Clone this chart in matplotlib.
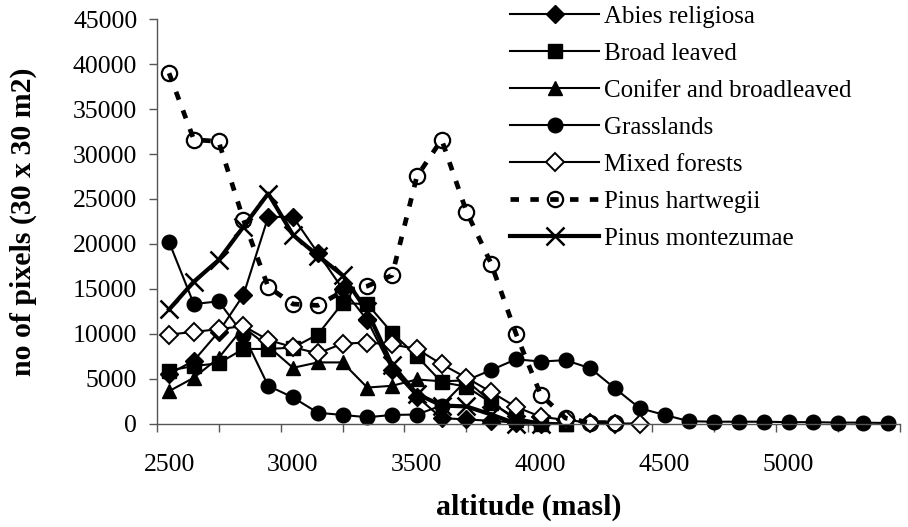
"""Pixel counts per vegetation class along the altitude gradient."""
import matplotlib.pyplot as plt
from matplotlib.ticker import FixedLocator, NullFormatter

plt.rcParams["font.family"] = ["Liberation Serif", "DejaVu Serif"]

ALTITUDE = list(range(2500, 5500, 100))

abies = [5500, 7000, 10200, 14300, 23000, 23000, 19000, 15000, 11500, 6000,
         3000, 600, 450, 300, 100, 0]
broad = [5900, 6400, 6700, 8300, 8300, 8450, 9900, 13400, 13300, 10100,
         7500, 4600, 4100, 2300, 600, 100, 0]
conifer = [3600, 5100, 7300, 10700, 8600, 6200, 6800, 6800, 4000, 4200,
           4900, 4700, 4800, 2400, 400, 0, 0]
grass = [20200, 13300, 13600, 9900, 4200, 2900, 1200, 950, 700, 950,
         1000, 2000, 4800, 5950, 7150, 6900, 7050, 6150, 3900, 1700,
         950, 250, 200, 200, 200, 150, 150, 100, 100, 50]
mixed = [9900, 10200, 10500, 10850, 9300, 8500, 7800, 8900, 9000, 8800,
         8300, 6600, 5100, 3500, 1850, 750, 400, 100, 0, 0]
hartwegii = [39000, 31600, 31400, 22700, 15200, 13300, 13150, 14700, 15300, 16500,
             27500, 31600, 23600, 17800, 10000, 3200, 600, 100, 100]
montezumae = [12700, 15800, 18200, 21900, 25600, 21000, 18700, 16500, 12500, 6500,
              3300, 2000, 1900, 1000, 0, 0]

series = [
    ("Abies religiosa", abies, dict(marker="D", ms=9, mfc="black", ls="-", lw=1.5)),
    ("Broad leaved", broad, dict(marker="s", ms=10, mfc="black", ls="-", lw=1.5)),
    ("Conifer and broadleaved", conifer, dict(marker="^", ms=10, mfc="black", ls="-", lw=1.5)),
    ("Grasslands", grass, dict(marker="o", ms=10.5, mfc="black", ls="-", lw=1.5)),
    ("Mixed forests", mixed, dict(marker="D", ms=9, mfc="white", mew=1.4, ls="-", lw=1.5)),
    ("Pinus hartwegii", hartwegii, dict(marker="o", ms=11, mfc="none", mew=1.6,
                                        ls=(0, (1.8, 2.4)), lw=3.4)),
    ("Pinus montezumae", montezumae, dict(marker="x", ms=13, mew=1.8, ls="-", lw=3)),
]

fig = plt.figure(figsize=(9.08, 5.27), dpi=100)
ax = fig.add_axes([156.7 / 908, 1 - 423.5 / 527, (900 - 156.7) / 908, (423.5 - 19.3) / 527])

for name, vals, style in series:
    ax.plot(ALTITUDE[:len(vals)], vals, color="black", mec="black", label=name,
            clip_on=False, **style)

ax.set_xlim(2450, 5450)
ax.set_ylim(0, 45000)
ax.set_yticks(range(0, 45001, 5000))
ax.set_xticks(range(2500, 5001, 500))
ax.xaxis.set_minor_locator(FixedLocator(range(2450, 5451, 250)))
ax.xaxis.set_minor_formatter(NullFormatter())
ax.tick_params(axis="x", which="major", length=0, pad=22, labelsize=18.5)
ax.tick_params(axis="x", which="minor", length=6, width=1, color="#555555", direction="out")
ax.tick_params(axis="y", length=6, width=1, color="#555555", pad=8, labelsize=18.5)

for side in ("top", "right"):
    ax.spines[side].set_visible(False)
for side in ("left", "bottom"):
    ax.spines[side].set_color("#555555")
    ax.spines[side].set_linewidth(1)

ax.set_xlabel("altitude (masl)", fontsize=21.5, fontweight="bold", labelpad=13)
ax.set_ylabel("no of pixels (30 x 30 m2)", fontsize=21.5, fontweight="bold", labelpad=26)

ax.legend(loc="upper left", bbox_to_anchor=(510 / 908, 1 - 5.5 / 527),
          bbox_transform=fig.transFigure, frameon=False, fontsize=18, numpoints=1,
          handlelength=3.56, handletextpad=0.2, labelspacing=0.58,
          borderpad=0, borderaxespad=0)

fig.savefig("out.png", dpi=100)
